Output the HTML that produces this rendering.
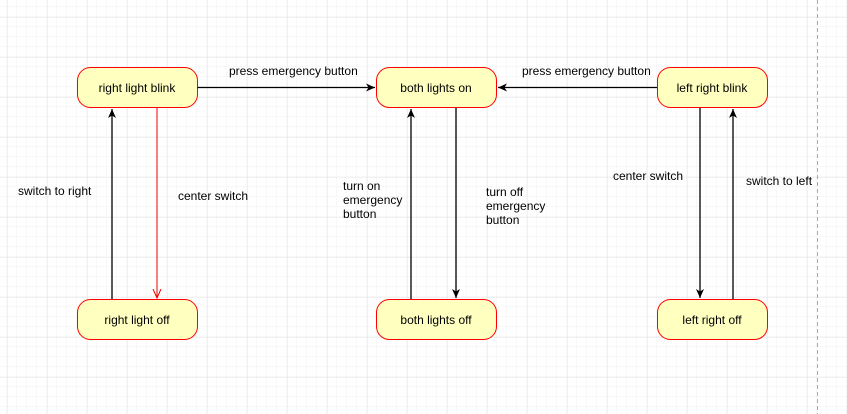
<!DOCTYPE html>
<html><head><style>
html,body{margin:0;padding:0;background:#fff}
svg{display:block}
text{font-family:"Liberation Sans",sans-serif;font-size:12px;fill:#000}
</style></head><body>
<svg width="847" height="414" xmlns="http://www.w3.org/2000/svg">
<defs>
<pattern id="g1" width="10" height="10" patternUnits="userSpaceOnUse" x="7" y="7">
<path d="M10 0V10M0 10H10" stroke="#f2f2f2" stroke-width="1" fill="none"/>
</pattern>
<pattern id="g2" width="40" height="40" patternUnits="userSpaceOnUse" x="7.5" y="17.5">
<path d="M0 0V40M0 0H40" stroke="#e4e4e4" stroke-width="1" fill="none"/>
</pattern>
<marker id="a" markerWidth="10" markerHeight="10" refX="9" refY="5" orient="auto" markerUnits="userSpaceOnUse"><path d="M0 1L9 5L0 9L2.5 5Z" fill="#000"/></marker>
<marker id="r" markerWidth="10" markerHeight="10" refX="9" refY="5" orient="auto" markerUnits="userSpaceOnUse"><path d="M0 1L9 5L0 9" fill="none" stroke="#e00"/></marker>
</defs>
<rect width="847" height="414" fill="url(#g1)"/>
<rect width="847" height="414" fill="url(#g2)"/>
<line x1="817.5" y1="0" x2="817.5" y2="414" stroke="#aaa" stroke-dasharray="4,3"/>
<g fill="#ffffc0" stroke="#f00" stroke-width="1">
<rect x="77.5" y="67.5" width="120" height="40" rx="13"/>
<rect x="77.5" y="299.5" width="120" height="40" rx="13"/>
<rect x="376.5" y="67.5" width="120" height="40" rx="13"/>
<rect x="376.5" y="299.5" width="120" height="40" rx="13"/>
<rect x="657.5" y="67.5" width="110" height="40" rx="13"/>
<rect x="657.5" y="299.5" width="110" height="40" rx="13"/>
</g>
<g stroke="#000" stroke-width="1.3" fill="none">
<line x1="197.5" y1="87.5" x2="375" y2="87.5" marker-end="url(#a)"/>
<line x1="657" y1="87.5" x2="498" y2="87.5" marker-end="url(#a)"/>
<line x1="112" y1="299" x2="112" y2="109" marker-end="url(#a)"/>
<line x1="411" y1="299" x2="411" y2="109" marker-end="url(#a)"/>
<line x1="456" y1="108" x2="456" y2="298" marker-end="url(#a)"/>
<line x1="700" y1="108" x2="700" y2="298" marker-end="url(#a)"/>
<line x1="733" y1="299" x2="733" y2="109" marker-end="url(#a)"/>
</g>
<line x1="157" y1="108" x2="157" y2="298" stroke="#e00" stroke-width="1" marker-end="url(#r)"/>
<g text-anchor="middle">
<text x="137" y="92">right light blink</text>
<text x="137" y="324">right light off</text>
<text x="436" y="92">both lights on</text>
<text x="436" y="324">both lights off</text>
<text x="712" y="92">left right blink</text>
<text x="712" y="324">left right off</text>
</g>
<text x="229" y="75">press emergency button</text>
<text x="522" y="75">press emergency button</text>
<text x="18" y="195">switch to right</text>
<text x="178" y="200">center switch</text>
<text x="343" y="190">turn on</text>
<text x="343" y="204">emergency</text>
<text x="343" y="218">button</text>
<text x="486" y="196">turn off</text>
<text x="486" y="210">emergency</text>
<text x="486" y="224">button</text>
<text x="613" y="180">center switch</text>
<text x="746" y="185">switch to left</text>
</svg>
</body></html>
